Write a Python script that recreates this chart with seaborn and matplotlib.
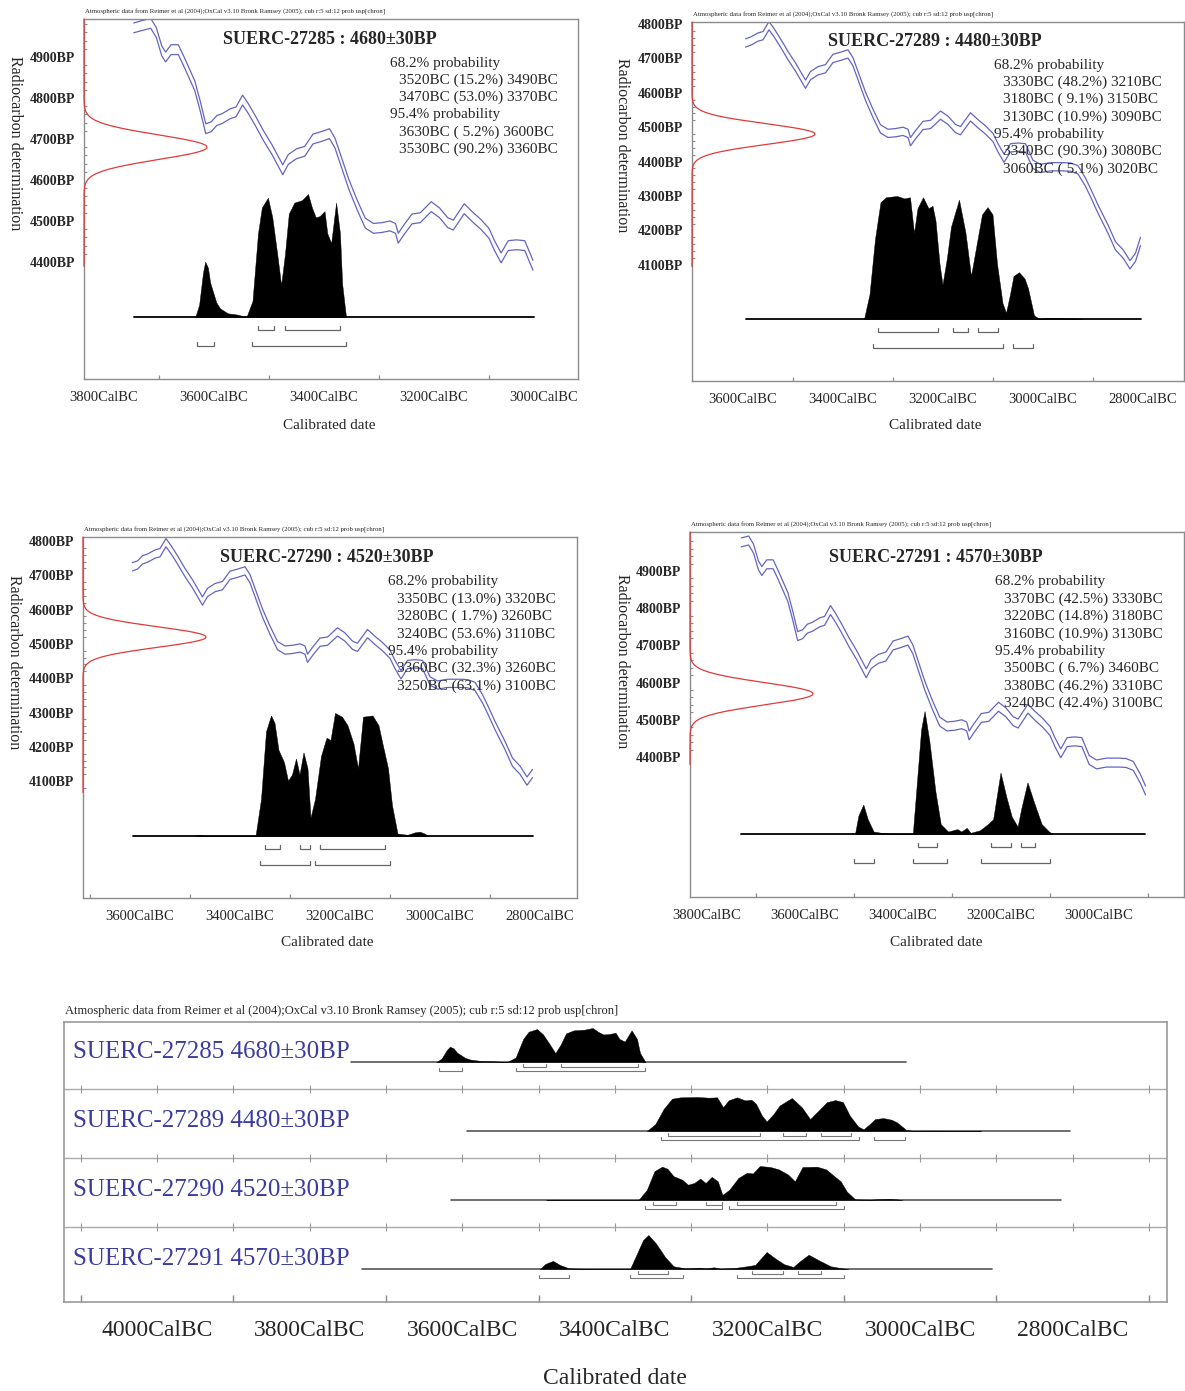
import numpy as np
import pandas as pd
import matplotlib
matplotlib.use("Agg")
import matplotlib.pyplot as plt
import seaborn as sns

# ---------------------------------------------------------
# data
# ---------------------------------------------------------
# IntCal04 curve (centre of the 1 sigma envelope), cal BC -> BP
CAL_YEAR = [3746, 3730, 3715, 3705, 3695, 3688, 3678, 3665, 3655, 3645,
            3635, 3625, 3615, 3605, 3595, 3585, 3570, 3560, 3548, 3538,
            3525, 3510, 3495, 3485, 3475, 3465, 3450, 3435, 3420, 3405,
            3390, 3380, 3370, 3355, 3340, 3325, 3310, 3295, 3280, 3270,
            3265, 3255, 3240, 3225, 3205, 3190, 3175, 3165, 3145, 3130,
            3115, 3100, 3090, 3078, 3065, 3050, 3035, 3020, 3005, 2985,
            2960, 2945, 2930, 2915, 2905, 2890, 2870, 2855, 2840, 2826,
            2815, 2805]
CAL_BP = [4971, 4977, 4982, 4960, 4915, 4900, 4918, 4918, 4890, 4860,
          4830, 4780, 4725, 4730, 4745, 4750, 4762, 4766, 4795, 4775,
          4745, 4708, 4675, 4650, 4625, 4650, 4664, 4670, 4700, 4706,
          4713, 4690, 4650, 4590, 4540, 4495, 4482, 4484, 4488, 4482,
          4458, 4478, 4505, 4508, 4535, 4520, 4496, 4490, 4530, 4510,
          4492, 4470, 4440, 4410, 4440, 4442, 4440, 4392, 4380, 4385,
          4385, 4384, 4376, 4340, 4310, 4262, 4204, 4155, 4132, 4100,
          4122, 4168]
CAL_HALF = 12

LAB_CODES = ["SUERC-27285", "SUERC-27289", "SUERC-27290", "SUERC-27291"]
C14_AGE = [4680, 4480, 4520, 4570]
C14_ERR = [30, 30, 30, 30]

# calendar span of the curve / baseline in each plot
SPAN_START = [3746, 3594, 3615, 3731]
SPAN_END = [3019, 2804, 2815, 2906]

# calibrated distributions (relative probability)
D27285_YEAR = [3634, 3627, 3620, 3616, 3611, 3607, 3596, 3589, 3575, 3558,
               3541, 3530, 3520, 3513, 3502, 3494, 3485, 3478, 3471, 3464,
               3454, 3440, 3429, 3422, 3415, 3408, 3399, 3394, 3387, 3378,
               3371, 3367, 3360]
D27285_PROB = [0, 0.10, 0.36, 0.45, 0.40, 0.28, 0.12, 0.07, 0.03, 0.02,
               0, 0.13, 0.68, 0.89, 0.97, 0.81, 0.51, 0.26, 0.51, 0.84,
               0.93, 0.95, 1.0, 0.89, 0.81, 0.82, 0.86, 0.68, 0.60, 0.93,
               0.68, 0.27, 0]

D27289_YEAR = [3358, 3347, 3336, 3325, 3314, 3292, 3277, 3266, 3258, 3251,
               3240, 3229, 3221, 3215, 3207, 3201, 3192, 3184, 3168, 3155,
               3144, 3133, 3122, 3111, 3101, 3092, 3081, 3074, 3066, 3059,
               3048, 3037, 3030, 3018, 3007, 2990, 2975, 2950, 2935, 2920]
D27289_PROB = [0, 0.2, 0.65, 0.95, 0.99, 1.0, 0.98, 0.99, 0.7, 0.9,
               0.99, 0.9, 0.92, 0.8, 0.45, 0.28, 0.5, 0.75, 0.97, 0.7,
               0.35, 0.6, 0.85, 0.91, 0.85, 0.45, 0.13, 0.05, 0.2, 0.35,
               0.38, 0.33, 0.25, 0.03, 0, 0.01, 0.01, 0.005, 0.005, 0]

D27290_YEAR = [3490, 3481, 3470, 3369, 3358, 3348, 3338, 3331, 3323, 3312,
               3304, 3296, 3288, 3281, 3273, 3265, 3259, 3250, 3238, 3227,
               3219, 3210, 3196, 3185, 3173, 3164, 3154, 3135, 3123, 3115,
               3104, 3096, 3085, 3065, 3050, 3040, 3031, 3023]
D27290_PROB = [0, 0.01, 0, 0, 0.3, 0.85, 0.98, 0.92, 0.7, 0.6,
               0.45, 0.5, 0.63, 0.5, 0.68, 0.55, 0.15, 0.3, 0.65, 0.8,
               0.78, 1.0, 0.97, 0.9, 0.75, 0.55, 0.97, 0.98, 0.9, 0.75,
               0.55, 0.25, 0.02, 0.01, 0.03, 0.035, 0.02, 0]

D27291_YEAR = [3498, 3491, 3481, 3472, 3460, 3437, 3420, 3380, 3372, 3363,
               3356, 3346, 3334, 3323, 3308, 3289, 3281, 3270, 3262, 3243,
               3227, 3216, 3201, 3189, 3178, 3166, 3159, 3146, 3132, 3117,
               3102, 3094]
D27291_PROB = [0, 0.15, 0.24, 0.12, 0.02, 0.005, 0, 0, 0.4, 0.85,
               1.0, 0.75, 0.35, 0.08, 0.02, 0.04, 0.02, 0.05, 0.01, 0.03,
               0.08, 0.12, 0.5, 0.3, 0.14, 0.06, 0.2, 0.42, 0.25, 0.08,
               0.02, 0]

DIST_YEAR = [D27285_YEAR, D27289_YEAR, D27290_YEAR, D27291_YEAR]
DIST_PROB = [D27285_PROB, D27289_PROB, D27290_PROB, D27291_PROB]

# (from BC, percent, to BC)
RANGE68 = [
    [(3520, 15.2, 3490), (3470, 53.0, 3370)],
    [(3330, 48.2, 3210), (3180, 9.1, 3150), (3130, 10.9, 3090)],
    [(3350, 13.0, 3320), (3280, 1.7, 3260), (3240, 53.6, 3110)],
    [(3370, 42.5, 3330), (3220, 14.8, 3180), (3160, 10.9, 3130)],
]
RANGE95 = [
    [(3630, 5.2, 3600), (3530, 90.2, 3360)],
    [(3340, 90.3, 3080), (3060, 5.1, 3020)],
    [(3360, 32.3, 3260), (3250, 63.1, 3100)],
    [(3500, 6.7, 3460), (3380, 46.2, 3310), (3240, 42.4, 3100)],
]

YTICK_RANGE = [(4400, 4900), (4100, 4800), (4100, 4800), (4400, 4900)]
RED_LOW = [4390, 4095, 4067, 4380]

ATMOS = ("Atmospheric data from Reimer et al (2004);OxCal v3.10 Bronk Ramsey "
         "(2005); cub r:5 sd:12 prob usp[chron]")

# ---------------------------------------------------------
# layout (pixels of the 1185 x 1391 canvas)
# ---------------------------------------------------------
PANEL_BOX = [(84, 19, 578, 379), (692, 22, 1184, 381),
             (83, 537, 577, 898), (690, 532, 1184, 897)]
X_ANCHOR = [(3000, 544, 0.55), (3000, 1043, 0.5), (3600, 140, 0.5), (3000, 1099, 0.49)]
Y_ANCHOR = [(4900, 57, 0.41), (4800, 24, 0.344), (4800, 541, 0.343), (4900, 571, 0.372)]
BASE_PX = [317, 319, 836, 834]
TITLE_XY = [(330, 40), (935, 42), (327, 558), (936, 557)]
PROB_XY = [(390, 63), (994, 65), (388, 582), (995, 582)]
YLAB_XY = [(15, 143), (622, 145), (14, 662), (622, 661)]
XLAB_XY = [(329, 425), (935, 425), (327, 943), (936, 942)]
PEAK_PX = 123

BLUE = "#6464c4"
RED = "#e03a3a"
GREY = "#8c8c8c"

sns.set_style("white")
plt.rcParams["font.family"] = ["Liberation Serif", "DejaVu Serif"]

W, H = 1185, 1391
fig = plt.figure(figsize=(W / 100, H / 100), dpi=100)

cal = pd.DataFrame({"year": CAL_YEAR, "bp": CAL_BP})


def ftext(px, py, s, **kw):
    return fig.text(px / W, 1 - py / H, s, **kw)


def add_box(l, t, r, b):
    return fig.add_axes([l / W, 1 - b / H, (r - l) / W, (b - t) / H])


def bc_ticks(x_hi, x_lo, margin=5):
    ys = [y for y in range(int(x_lo // 100 + 1) * 100, int(x_hi) + 1, 100)
          if x_lo + margin < y < x_hi - margin]
    return [y for y in ys if y % 200 == 0], [y for y in ys if y % 200 != 0]


def brackets(ax, ranges, y, up, color, lw):
    for a, _, b in ranges:
        ax.plot([a, a, b, b], [y + up, y, y, y + up], color=color, lw=lw,
                solid_joinstyle="miter")


def draw_panel(i):
    l, t, r, b = PANEL_BOX[i]
    ax = add_box(l, t, r, b)
    A, xa, kx = X_ANCHOR[i]
    B, ya, ky = Y_ANCHOR[i]
    x0, x1 = A + (xa - l) / kx, A - (r - xa) / kx
    y0, y1 = B - (b - ya) / ky, B + (ya - t) / ky
    base = B - (BASE_PX[i] - ya) / ky
    peak = PEAK_PX / ky

    # calibration curve envelope
    seg = cal[(cal.year <= SPAN_START[i] + 1) & (cal.year >= SPAN_END[i] - 1)]
    for sgn in (1, -1):
        sns.lineplot(x=seg.year.values, y=seg.bp.values + sgn * CAL_HALF, ax=ax,
                     color=BLUE, lw=0.9, sort=False, estimator=None)

    # calibrated distribution
    yrs = np.array(DIST_YEAR[i])
    prob = np.array(DIST_PROB[i])
    ax.fill_between(yrs, base, base + prob * peak, color="black", lw=0.3,
                    edgecolor="black", zorder=3)
    sns.lineplot(x=[SPAN_START[i], SPAN_END[i]], y=[base, base], ax=ax,
                 color="black", lw=1.3, sort=False, estimator=None)
    brackets(ax, RANGE68[i], base - 13 / ky, 4 / ky, "#666666", 0.9)
    brackets(ax, RANGE95[i], base - 29 / ky, 4 / ky, "#666666", 0.9)

    # radiocarbon date on the y axis
    mu, sd = C14_AGE[i], C14_ERR[i]
    ys = np.linspace(RED_LOW[i], y1, 400)
    g = np.exp(-0.5 * ((ys - mu) / sd) ** 2)
    ax.plot(x0 - g * PEAK_PX / kx, ys, color=RED, lw=0.9, clip_on=False, zorder=6)

    ax.set_xlim(x0, x1)
    ax.set_ylim(y0, y1)
    ax.set_xlabel("")
    ax.set_ylabel("")

    majors, minors = bc_ticks(x0, x1)
    ax.set_xticks(majors, labels=[f"{v}CalBC" for v in majors])
    ax.set_xticks(minors, minor=True)
    lo, hi = YTICK_RANGE[i]
    yt = list(range(lo, hi + 1, 100))
    ax.set_yticks(yt, labels=[f"{v}BP" for v in yt], fontweight="bold")
    ax.set_yticks([v for v in range(int(RED_LOW[i] // 20 + 1) * 20, int(y1), 20)
                   if v % 100 != 0], minor=True)
    ax.tick_params(axis="x", which="major", direction="in", length=6.5,
                   width=0.9, color=GREY, labelsize=10.5, pad=8.5)
    ax.tick_params(axis="x", which="minor", direction="in", length=3,
                   width=0.9, color=GREY, bottom=True)
    ax.tick_params(axis="y", which="major", direction="in", length=5.5,
                   width=0.9, color=GREY, labelsize=10, pad=6.5)
    ax.tick_params(axis="y", which="minor", direction="in", length=2.2,
                   width=0.8, color=GREY, left=True)
    for sp in ax.spines.values():
        sp.set_color(GREY)
        sp.set_linewidth(1.0)
        sp.set_visible(True)

    ftext(l + 1, t - 7, ATMOS, fontsize=4.9, va="center", ha="left")
    tx, ty = TITLE_XY[i]
    ftext(tx, ty, f"{LAB_CODES[i]} : {C14_AGE[i]}\u00b1{C14_ERR[i]}BP",
          fontsize=13, fontweight="bold", ha="center", va="center")
    px, py = PROB_XY[i]
    lines = [("68.2% probability", 0)]
    lines += [(f"{a}BC ({p:4.1f}%) {c}BC", 9) for a, p, c in RANGE68[i]]
    lines += [("95.4% probability", 0)]
    lines += [(f"{a}BC ({p:4.1f}%) {c}BC", 9) for a, p, c in RANGE95[i]]
    for k, (s, ind) in enumerate(lines):
        ftext(px + ind, py + k * 17.3, s, fontsize=11, ha="left", va="center")
    lx, ly = YLAB_XY[i]
    ftext(lx, ly, "Radiocarbon determination", fontsize=11.5, rotation=270,
          ha="center", va="center")
    cx, cy = XLAB_XY[i]
    ftext(cx, cy, "Calibrated date", fontsize=11, ha="center", va="center")


for i in range(4):
    draw_panel(i)

# ---------------------------------------------------------
# multi plot at the bottom
# ---------------------------------------------------------
BL, BT, BR, BB = 64, 1022, 1167, 1302
bx = add_box(BL, BT, BR, BB)
X4000, KXB = 157, 0.763
bx0, bx1 = 4000 + (X4000 - BL) / KXB, 4000 - (BR - X4000) / KXB
ROW_BASE0, ROW_STEP, ROW_PEAK = 240, 69, 34

for i in range(4):
    base = ROW_BASE0 - ROW_STEP * i
    yrs = np.array(DIST_YEAR[i])
    prob = np.array(DIST_PROB[i])
    bx.fill_between(yrs, base, base + prob * ROW_PEAK, color="black", lw=0.3,
                    edgecolor="black", zorder=3)
    sns.lineplot(x=[SPAN_START[i], SPAN_END[i]], y=[base, base], ax=bx,
                 color="#555555", lw=1.2, sort=False, estimator=None)
    brackets(bx, RANGE68[i], base - 4.5, 2.5, "#777777", 0.8)
    brackets(bx, RANGE95[i], base - 8.5, 2.5, "#777777", 0.8)
    bx.text(0.008, base + 4, f"{LAB_CODES[i]} {C14_AGE[i]}\u00b1{C14_ERR[i]}BP",
            transform=bx.get_yaxis_transform(), fontsize=18, color="#3c3ca0",
            ha="left", va="baseline")
    if i < 3:
        sep = base - 27
        bx.axhline(sep, color="#aaaaaa", lw=1.0)
        cross = [y for y in range(2700, 4101, 100)]
        bx.vlines(cross, sep - 4, sep + 4, color="#999999", lw=0.8)

bx.set_xlim(bx0, bx1)
bx.set_ylim(0, 280)
bx.set_xlabel("")
bx.set_ylabel("")
majors, minors = bc_ticks(bx0, bx1)
bx.set_xticks(majors, labels=[f"{v}CalBC" for v in majors])
bx.set_xticks(minors, minor=True)
bx.set_yticks([])
bx.tick_params(axis="x", which="major", direction="in", length=9.4, width=1.0,
               color="#888888", labelsize=17, pad=13)
bx.tick_params(axis="x", which="minor", direction="in", length=5, width=1.0,
               color="#888888", bottom=True)
for sp in bx.spines.values():
    sp.set_color("#999999")
    sp.set_linewidth(1.2)
    sp.set_visible(True)

ftext(BL + 1, 1011, ATMOS, fontsize=9, ha="left", va="center")
ftext(615, 1378, "Calibrated date", fontsize=17, ha="center", va="center")

fig.savefig("out.png", dpi=100)
